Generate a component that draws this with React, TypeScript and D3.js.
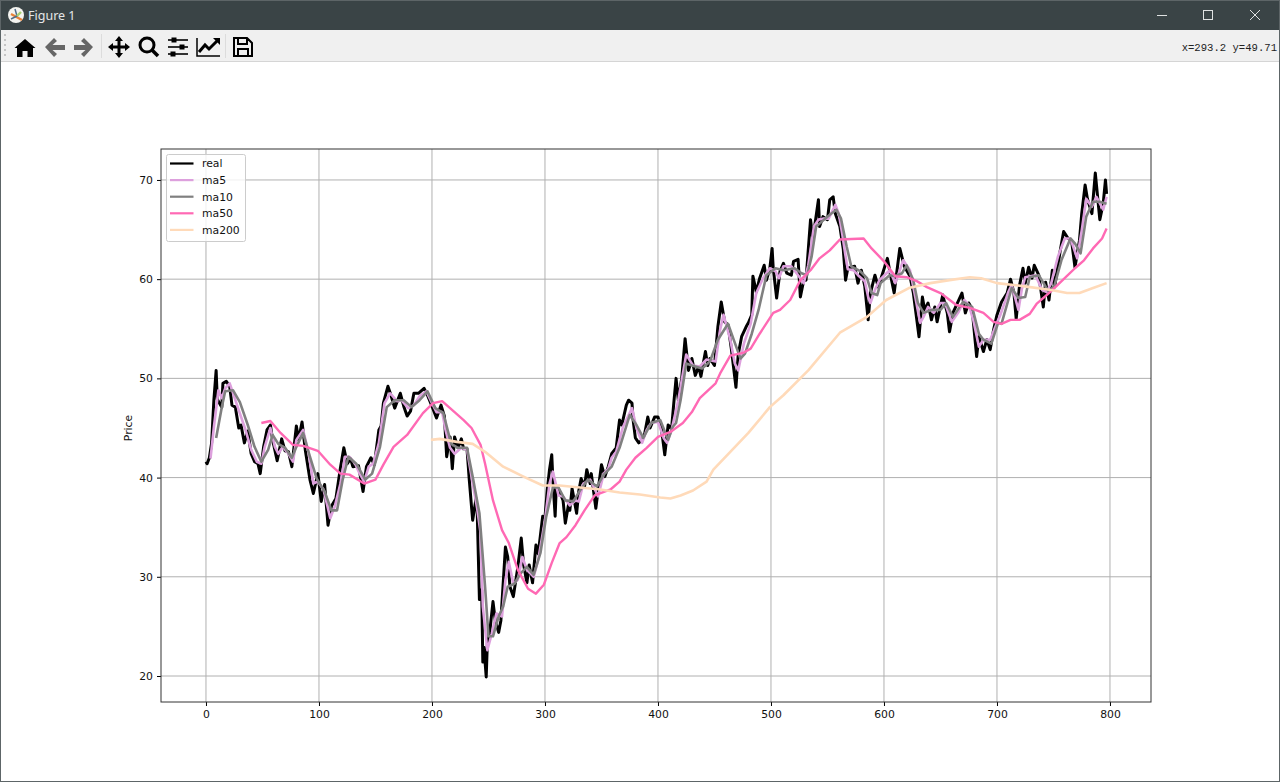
import React, { useEffect, useRef } from 'react';
import * as d3 from 'd3';

const xTicks = [0, 100, 200, 300, 400, 500, 600, 700, 800];
const yTicks = [20, 30, 40, 50, 60, 70];
const seriesNames = ['real', 'ma5', 'ma10', 'ma50', 'ma200'];
const seriesColors = ['#000000', '#dda0dd', '#808080', '#ff69b4', '#ffdab9'];
const seriesWidths = [3, 2.6, 2.6, 2.4, 2.6];

const realX = [0, 1, 3, 5, 7, 9, 10, 12, 14, 15, 18, 21, 23, 26, 29, 31, 34, 37, 40, 43, 46, 48, 51, 54, 57, 59, 63, 67, 70, 73, 76, 80, 82, 85, 88, 92, 95, 99, 102, 105, 108, 111, 115, 119, 122, 125, 128, 130, 135, 139, 142, 146, 149, 153, 155, 157, 161, 164, 167, 172, 175, 178, 181, 184, 188, 193, 196, 200, 204, 208, 211, 213, 216, 218, 220, 223, 226, 228, 231, 233, 236, 239, 240, 242, 244, 245, 246, 248, 249, 251, 254, 256, 259, 261, 265, 267, 269, 272, 276, 279, 281, 284, 286, 289, 292, 294, 298, 300, 302, 304, 306, 307, 309, 310, 313, 316, 318, 321, 322, 324, 328, 330, 332, 335, 337, 340, 341, 345, 347, 350, 353, 356, 359, 363, 366, 368, 372, 374, 377, 378, 380, 383, 386, 388, 391, 393, 397, 400, 403, 406, 409, 412, 414, 416, 418, 421, 424, 427, 430, 433, 436, 438, 442, 444, 446, 450, 453, 456, 459, 462, 465, 469, 471, 474, 478, 480, 483, 484, 487, 490, 494, 496, 499, 501, 502, 505, 508, 511, 514, 518, 520, 524, 526, 529, 531, 535, 537, 542, 543, 546, 550, 552, 555, 557, 561, 564, 566, 568, 574, 577, 580, 583, 586, 588, 592, 595, 598, 603, 606, 609, 612, 614, 618, 623, 626, 631, 634, 636, 639, 642, 645, 647, 652, 656, 658, 661, 669, 672, 675, 678, 682, 684, 688, 691, 694, 697, 700, 704, 709, 712, 715, 717, 720, 723, 725, 728, 731, 733, 737, 741, 743, 746, 749, 751, 756, 759, 763, 766, 769, 773, 775, 778, 780, 784, 787, 791, 794, 796, 797];
const realY = [41.6, 41.4, 42, 43.5, 47.8, 50.8, 47.9, 47.5, 47.1, 49.5, 49.7, 49.2, 47.3, 47.1, 45, 45.3, 43.5, 44.7, 42.4, 41.6, 41.4, 40.4, 43.1, 44.8, 45.3, 43.8, 41.7, 43.9, 42.7, 42.6, 41.1, 45.2, 43.8, 45.6, 42.7, 39.8, 38.4, 40.4, 37.6, 39.3, 35.2, 37.1, 37.9, 41, 43, 41.4, 41.9, 41.1, 41.2, 38.6, 41.1, 42, 41.3, 44.8, 45.2, 47.5, 49.2, 48.2, 47, 48.5, 47.2, 46.2, 46.7, 48.5, 48.5, 49, 48.3, 47.2, 46, 47.3, 46.2, 42.1, 44.1, 40.9, 44.1, 43, 43.9, 42.9, 42.9, 39.8, 35.7, 37.9, 36.7, 27.7, 28.7, 21.4, 22.9, 19.9, 23.3, 24.3, 27.5, 25.6, 24.4, 25.6, 33, 32, 29, 28, 31, 33.9, 31.3, 29.4, 31.2, 29.4, 33.2, 32.3, 36.1, 36, 38.7, 40.8, 42.3, 39.8, 36.1, 39.1, 38.6, 37.7, 35.4, 37.4, 36.7, 38.9, 36.4, 38.7, 39.9, 39.1, 40.8, 39.4, 40.4, 36.9, 38.7, 41.3, 40.1, 41.1, 42.4, 43, 45.8, 45.3, 47.3, 47.8, 47.5, 45.8, 44, 43.5, 43.8, 44.3, 46.1, 45, 46.1, 46.1, 45, 42.3, 45.3, 44.9, 47.5, 50, 47.8, 50, 54, 50.8, 52, 50.3, 51.2, 50.2, 52.7, 51.3, 52, 51.3, 55.2, 57.7, 55.7, 55.4, 52.9, 49.1, 52.4, 54.2, 55.2, 55.6, 56.4, 60.3, 58.7, 60.1, 61.4, 59.9, 61.1, 63.1, 61.1, 58.1, 60.8, 61.6, 60.6, 60.4, 61.8, 62, 58.2, 59.9, 59.9, 66, 64, 68, 65.3, 66.3, 66, 68, 68.3, 66.6, 65.3, 63, 59.9, 61.1, 61.3, 59.6, 60.9, 59.3, 55.9, 58.6, 60.4, 59.2, 60.3, 62.1, 60.3, 58.6, 61.3, 63.1, 61.3, 60.3, 58.6, 54.2, 58.2, 56.9, 57.6, 55.9, 57.2, 55.7, 58.4, 56.6, 54.7, 56.6, 58.6, 56.6, 57.6, 57, 52.2, 54.2, 52.7, 53.9, 52.9, 54.9, 56.4, 57.7, 58.6, 60, 58.6, 56, 59.4, 61.1, 59.6, 61.2, 60.1, 61.4, 60.4, 57.2, 59.7, 57.9, 60.9, 59.2, 62.9, 64.8, 64.1, 63.9, 61.2, 63.9, 66.6, 69.5, 68.1, 66.6, 70.7, 66, 67.6, 70, 68.6];

const ma5X = [4, 7, 11, 14, 17, 21, 24, 29, 35, 40, 45, 49, 52, 57, 61, 64, 68, 73, 77, 80, 86, 91, 95, 99, 104, 110, 114, 119, 123, 127, 132, 136, 140, 144, 148, 153, 158, 163, 169, 173, 179, 184, 189, 195, 200, 204, 209, 212, 216, 220, 226, 231, 235, 240, 243, 245, 249, 253, 257, 262, 265, 268, 272, 276, 280, 284, 290, 294, 300, 304, 307, 312, 316, 322, 327, 330, 334, 340, 347, 352, 356, 359, 363, 369, 377, 381, 386, 390, 394, 400, 405, 408, 412, 418, 421, 425, 431, 437, 443, 451, 455, 458, 464, 468, 471, 476, 482, 487, 493, 499, 504, 507, 511, 518, 524, 529, 533, 538, 542, 546, 551, 557, 560, 563, 566, 568, 573, 577, 583, 586, 588, 592, 596, 605, 610, 614, 617, 623, 627, 632, 635, 639, 644, 650, 654, 660, 666, 671, 675, 679, 684, 688, 694, 700, 703, 710, 713, 719, 722, 725, 734, 740, 744, 748, 754, 760, 765, 771, 775, 779, 784, 788, 794, 797];
const ma5Y = [41.9, 45.1, 48.8, 48, 49, 49.5, 48.5, 46.8, 44.8, 42.8, 41.6, 41.4, 43.1, 45, 43.1, 42.4, 43.1, 42.4, 41.6, 43.8, 44.8, 42.4, 39.4, 39.6, 38.8, 35.9, 37.1, 39.4, 42.1, 42.1, 41.4, 40.4, 39.6, 41.1, 41.4, 43.5, 47.5, 48.5, 47.7, 47.8, 47, 47.3, 48.2, 48.7, 47.5, 46.6, 46.6, 44.8, 43, 42.4, 43, 42.8, 40.1, 36.9, 34.4, 27, 22.6, 24.3, 26.3, 26, 29.7, 31.5, 29.3, 29.7, 32, 30.7, 30, 31.7, 35.7, 39.4, 40.6, 38.2, 38.1, 37.2, 37.7, 37.6, 39.4, 39.8, 38.1, 40.4, 40.9, 42, 42.6, 45.1, 47, 45, 43.5, 44.8, 45.5, 45.6, 44, 43.5, 44.8, 47.8, 49.8, 52.4, 51.3, 51.2, 51.9, 51.7, 54.9, 56.4, 53.9, 51.5, 50.8, 53.5, 55.5, 58.6, 60.1, 61.1, 60.8, 60.1, 61.3, 61.3, 60.4, 59.6, 61.4, 65.3, 66, 66.1, 66.1, 67.5, 66.6, 64.6, 62.3, 61, 60.9, 60.4, 59.8, 58.2, 57.6, 58.9, 59.9, 60.9, 59.6, 60.9, 61.9, 60.9, 58.6, 55.6, 56.2, 57.2, 56.6, 57.6, 57.6, 55.7, 56.7, 57.9, 57.4, 55.9, 53.2, 53.9, 53.9, 55.6, 56.4, 58.7, 59.4, 56.9, 59, 60.2, 60.4, 58.9, 58.7, 59.6, 62.3, 64.1, 64.1, 62.1, 64.9, 68.1, 67.3, 68.3, 67, 68.3];

const ma10X = [9, 14, 17, 24, 30, 37, 43, 49, 55, 59, 64, 70, 76, 80, 86, 92, 98, 105, 111, 116, 121, 126, 133, 141, 147, 154, 160, 167, 175, 182, 189, 196, 203, 210, 217, 223, 231, 236, 242, 247, 250, 254, 259, 263, 267, 273, 278, 284, 290, 296, 301, 307, 312, 318, 325, 331, 338, 346, 352, 359, 366, 375, 381, 387, 394, 402, 409, 413, 416, 420, 425, 430, 439, 446, 453, 462, 467, 473, 477, 483, 489, 496, 504, 511, 521, 527, 532, 536, 540, 545, 552, 558, 562, 567, 571, 579, 585, 589, 594, 597, 605, 610, 616, 620, 626, 630, 635, 642, 650, 655, 661, 670, 678, 684, 688, 695, 701, 704, 713, 719, 725, 729, 737, 746, 751, 757, 765, 769, 774, 779, 785, 791, 797];
const ma10Y = [44, 47.1, 48.7, 48.8, 47.6, 45.3, 43.1, 41.6, 42.8, 44.3, 43.4, 43, 42, 43.1, 44.5, 42.1, 39.9, 38.6, 36.7, 36.7, 39.8, 42.1, 41.4, 39.8, 40.4, 43.1, 47.1, 47.8, 47.8, 47.1, 47.8, 48.7, 47, 46.5, 43.4, 43, 43, 40.1, 36.4, 29, 24, 24, 26, 27, 29, 29.3, 30.3, 31, 30.2, 32.4, 36, 39, 39, 37.7, 37.6, 38.7, 39.8, 39.1, 40.3, 41.1, 43, 46.3, 45.3, 44, 45.5, 45.8, 43.8, 45.1, 45.5, 47.8, 51.5, 51.3, 51, 51.7, 53.9, 55.5, 53.9, 52, 52.5, 54.5, 56.9, 60.4, 61.1, 60.9, 61.1, 60.6, 60.4, 62.3, 65.3, 65.8, 66.5, 67, 66.1, 63.3, 61.3, 60.8, 60.1, 58.6, 58.4, 59.6, 60.4, 60.3, 60.6, 61.4, 59.9, 57.6, 56.6, 56.9, 56.9, 57.6, 56.2, 57.7, 57.2, 54.5, 53.9, 53.5, 55.6, 55.5, 59.1, 58.1, 58.2, 60.2, 60.4, 58.7, 59.4, 61.9, 64.1, 63.6, 62.6, 66.3, 67.8, 67.8, 67.6];

const ma50X = [49, 57, 66, 77, 86, 99, 110, 119, 127, 140, 150, 157, 166, 178, 192, 201, 209, 216, 228, 235, 243, 247, 254, 262, 268, 276, 285, 292, 299, 306, 313, 319, 327, 335, 344, 358, 366, 372, 380, 390, 400, 411, 422, 430, 437, 451, 455, 464, 476, 482, 490, 502, 508, 517, 526, 535, 543, 552, 561, 582, 589, 600, 610, 620, 629, 638, 650, 664, 676, 688, 697, 704, 712, 720, 729, 735, 748, 759, 769, 777, 785, 793, 797];
const ma50Y = [45.5, 45.7, 44.5, 43.3, 43.2, 42.7, 41.3, 40.4, 40.3, 39.4, 39.8, 41.3, 43.1, 44.3, 46.5, 47.5, 47.7, 47, 45.8, 45, 43.3, 41.4, 37.7, 34.7, 33.4, 30.7, 28.8, 28.3, 29.2, 31.4, 33.4, 34, 35.2, 36.7, 38.2, 38.8, 39.6, 40.8, 42, 43, 44.1, 44.6, 45.5, 46.6, 48, 49.5, 50.5, 52.3, 52.6, 53, 54.5, 56.6, 56.9, 57.9, 59.9, 60.9, 62.1, 62.9, 64, 64.1, 63.1, 61.8, 60.3, 60.2, 59.8, 59.2, 58.6, 57.4, 57.1, 56.6, 55.7, 55.5, 55.9, 55.9, 56.5, 57.5, 58.8, 60, 61.1, 61.9, 63.1, 64.1, 65.1];

const ma200X = [199, 207, 222, 236, 247, 263, 281, 298, 313, 331, 349, 366, 384, 402, 411, 420, 431, 443, 449, 464, 480, 499, 511, 533, 561, 585, 602, 622, 641, 658, 676, 686, 700, 723, 748, 762, 773, 785, 797];
const ma200Y = [43.8, 43.9, 43.6, 43.4, 42.6, 41.1, 40.1, 39.2, 39.2, 39, 38.8, 38.5, 38.3, 38, 37.9, 38.2, 38.7, 39.6, 40.8, 42.6, 44.5, 47.1, 48.3, 50.8, 54.6, 56.2, 57.9, 59.1, 59.6, 59.9, 60.2, 60.1, 59.6, 59.3, 58.9, 58.6, 58.6, 59.1, 59.6];

const seriesX = [realX, ma5X, ma10X, ma50X, ma200X];
const seriesY = [realY, ma5Y, ma10Y, ma50Y, ma200Y];

const App: React.FC = () => {
    const chartRef = useRef<SVGSVGElement>(null);

    useEffect(() => {
        const svg = d3.select(chartRef.current);
        svg.selectAll('*').remove();

        const font = 'DejaVu Sans';
        const left = 161, right = 1151, top = 149, bottom = 702;

        const x = d3.scaleLinear().domain([-39.8, 836.3]).range([left, right]);
        const y = d3.scaleLinear().domain([17.38, 73.12]).range([bottom, top]);

        // window frame
        svg.append('rect').attr('width', 1280).attr('height', 782).attr('fill', '#ffffff');
        svg.append('rect').attr('width', 1280).attr('height', 30).attr('fill', '#3a4446');
        svg.append('rect').attr('y', 30).attr('width', 1280).attr('height', 31).attr('fill', '#f0f0f0');
        svg.append('line').attr('x1', 0).attr('x2', 1280).attr('y1', 61.5).attr('y2', 61.5).attr('stroke', '#d5d5d5');
        svg.append('rect').attr('x', 0.5).attr('y', 0.5).attr('width', 1279).attr('height', 781)
            .attr('fill', 'none').attr('stroke', '#5d6567');

        // title icon and text
        const logo = svg.append('g').attr('transform', 'translate(16,15)');
        logo.append('circle').attr('r', 8).attr('fill', '#f4f4f0');
        logo.append('path').attr('d', 'M-5,-1 L6,5').attr('stroke', '#e8823a').attr('stroke-width', 2.4);
        logo.append('path').attr('d', 'M-1,-6 L1,1 L-5,4').attr('stroke', '#4f6d8a').attr('stroke-width', 1.5).attr('fill', 'none');
        logo.append('path').attr('d', 'M1,1 L5,-3').attr('stroke', '#a6cf72').attr('stroke-width', 2.4);
        svg.append('text').attr('x', 28).attr('y', 20).attr('fill', '#e4e6e6')
            .style('font-family', 'Noto Sans').style('font-size', '12.5px').text('Figure 1');

        // window controls
        const ctl = svg.append('g').attr('stroke', '#dfe2e2').attr('stroke-width', 1).attr('fill', 'none');
        ctl.append('line').attr('x1', 1157).attr('x2', 1167).attr('y1', 15.5).attr('y2', 15.5);
        ctl.append('rect').attr('x', 1203.5).attr('y', 10.5).attr('width', 9).attr('height', 9);
        ctl.append('path').attr('d', 'M1250,10 L1260,20 M1260,10 L1250,20');

        // toolbar
        const tb = svg.append('g');
        d3.range(5).forEach(i => {
            tb.append('rect').attr('x', 4).attr('y', 34 + i * 5).attr('width', 2).attr('height', 2).attr('fill', '#c4c4c4');
        });
        [101, 225].forEach(px => {
            tb.append('line').attr('x1', px + 0.5).attr('x2', px + 0.5).attr('y1', 34).attr('y2', 58).attr('stroke', '#dcdcdc');
        });
        tb.append('path').attr('fill', '#000')
            .attr('d', 'M25,39 L35.5,48 L33,48 L33,57 L27.5,57 L27.5,51 L22.5,51 L22.5,57 L17,57 L17,48 L14.5,48 Z');
        tb.append('path').attr('fill', '#666')
            .attr('d', 'M45,47 L54,38 L57,41 L52.5,45 L65,45 L65,50 L52.5,50 L57,54 L54,57 Z');
        tb.append('path').attr('fill', '#666')
            .attr('d', 'M93,47 L84,38 L81,41 L85.5,45 L74,45 L74,50 L85.5,50 L81,54 L84,57 Z');
        tb.append('path').attr('fill', '#000')
            .attr('d', 'M119,36 L123,41 L120.5,41 L120.5,45.5 L125,45.5 L125,43 L130,47 L125,51 L125,48.5 L120.5,48.5 L120.5,53 L123,53 L119,58 L115,53 L117.5,53 L117.5,48.5 L113,48.5 L113,51 L108,47 L113,43 L113,45.5 L117.5,45.5 L117.5,41 L115,41 Z');
        tb.append('circle').attr('cx', 147).attr('cy', 45).attr('r', 7).attr('fill', 'none').attr('stroke', '#000').attr('stroke-width', 3);
        tb.append('line').attr('x1', 152).attr('y1', 50).attr('x2', 158).attr('y2', 56).attr('stroke', '#000').attr('stroke-width', 3.5);
        [[40, 174], [47, 182], [54, 173]].forEach(([py, knob]) => {
            tb.append('line').attr('x1', 168).attr('x2', 188).attr('y1', py).attr('y2', py).attr('stroke', '#000').attr('stroke-width', 1.6);
            tb.append('rect').attr('x', knob - 2.5).attr('y', py - 2.5).attr('width', 5).attr('height', 5).attr('fill', '#000');
        });
        tb.append('path').attr('fill', 'none').attr('stroke', '#000').attr('stroke-width', 1.5).attr('d', 'M197,38 L197,56 L220,56');
        tb.append('path').attr('fill', 'none').attr('stroke', '#000').attr('stroke-width', 3).attr('d', 'M199,52 L205,45 L209,49 L217,41');
        tb.append('path').attr('fill', '#000').attr('d', 'M213,38 L220,38 L220,45 Z');
        tb.append('path').attr('fill', 'none').attr('stroke', '#000').attr('stroke-width', 2)
            .attr('d', 'M234,38 L247,38 L252,43 L252,56 L234,56 Z M238,38 L238,44 L247,44 L247,38 M238,56 L238,49 L248,49 L248,56');
        svg.append('text').attr('x', 1277).attr('y', 51).attr('text-anchor', 'end').attr('fill', '#222')
            .style('font-family', 'Liberation Mono').style('font-size', '10.6px').text('x=293.2 y=49.71');

        // grid
        const grid = svg.append('g').attr('stroke', '#b0b0b0').attr('stroke-width', 1);
        xTicks.forEach(t => {
            grid.append('line').attr('x1', x(t)).attr('x2', x(t)).attr('y1', top).attr('y2', bottom);
        });
        yTicks.forEach(t => {
            grid.append('line').attr('x1', left).attr('x2', right).attr('y1', y(t)).attr('y2', y(t));
        });

        // series
        seriesNames.forEach((name, i) => {
            const pts = seriesX[i].map((v, j) => [v, seriesY[i][j]] as [number, number]);
            const line = d3.line<[number, number]>().x(d => x(d[0])).y(d => y(d[1]));
            svg.append('path').attr('class', name).attr('d', line(pts))
                .attr('fill', 'none').attr('stroke', seriesColors[i]).attr('stroke-width', seriesWidths[i])
                .attr('stroke-linejoin', 'round');
        });

        // axes
        const xAxis = svg.append('g').attr('transform', `translate(0,${bottom})`)
            .call(d3.axisBottom(x).tickValues(xTicks).tickFormat(d3.format('d')).tickSize(4).tickPadding(4).tickSizeOuter(0));
        const yAxis = svg.append('g').attr('transform', `translate(${left},0)`)
            .call(d3.axisLeft(y).tickValues(yTicks).tickFormat(d3.format('d')).tickSize(4).tickPadding(4).tickSizeOuter(0));
        [xAxis, yAxis].forEach(a => {
            a.select('.domain').remove();
            a.selectAll('text').style('font-family', font).style('font-size', '10.8px').attr('fill', '#111');
        });
        svg.append('rect').attr('x', left).attr('y', top).attr('width', right - left).attr('height', bottom - top)
            .attr('fill', 'none').attr('stroke', '#333').attr('stroke-width', 1);
        svg.append('text').attr('transform', 'translate(132,428) rotate(-90)').attr('text-anchor', 'middle')
            .attr('fill', '#111').style('font-family', font).style('font-size', '10.8px').text('Price');

        // legend
        const legend = svg.append('g');
        legend.append('rect').attr('x', 166.5).attr('y', 154.5).attr('width', 79).attr('height', 87).attr('rx', 2)
            .attr('fill', '#ffffff').attr('fill-opacity', 0.8).attr('stroke', '#cccccc').attr('stroke-width', 1);
        seriesNames.forEach((name, i) => {
            const ly = 163.5 + i * 16.6;
            legend.append('line').attr('x1', 170).attr('x2', 193.5).attr('y1', ly).attr('y2', ly)
                .attr('stroke', seriesColors[i]).attr('stroke-width', 2.2);
            legend.append('text').attr('x', 202).attr('y', ly + 3.8).attr('fill', '#111')
                .style('font-family', font).style('font-size', '10.8px').text(name);
        });
    }, []);

    return <svg ref={chartRef} width="1280" height="782" style={{ position: 'absolute', left: 0, top: 0, display: 'block' }}></svg>;
};

export default App;
